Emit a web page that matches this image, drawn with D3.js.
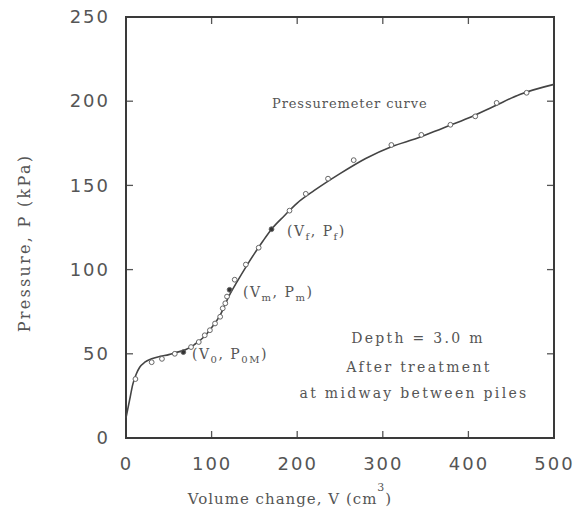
<!DOCTYPE html>
<meta charset="utf-8">
<script src="https://d3js.org/d3.v7.min.js"></script>
<style>
  body { margin: 0; background: #fff; }
  text { fill: #555; }
</style>
<div id="chart"></div>
<script>
// measured points (V in cm3, P in kPa)
var pointV = [11, 30, 42, 57, 67, 76, 85, 92, 98, 104, 110, 113, 116, 118, 121, 127, 140, 155, 170, 191, 210, 236, 266, 310, 345, 379, 408, 433, 468];
var pointP = [35, 45, 47, 50, 51, 54, 57, 61, 64, 68, 72, 77, 80, 84, 88, 94, 103, 113, 124, 135, 145, 154, 165, 174, 180, 186, 191, 199, 205];
var filledV = [67, 121, 170];

// fitted pressuremeter curve
var curveV = [0, 4, 8, 12, 16, 22, 30, 40, 50, 60, 70, 80, 90, 100, 110, 120, 130, 140, 150, 160, 170, 185, 200, 220, 250, 280, 310, 340, 370, 400, 430, 460, 500];
var curveP = [12, 22, 32, 38, 42, 45, 47, 48.5, 49.5, 51, 52.5, 55.5, 59.5, 65.5, 73, 84, 93, 101.5, 109.5, 117, 124, 132, 139.5, 147, 157, 166, 173, 178, 184, 190, 197, 204, 210];

var xTicks = [0, 100, 200, 300, 400, 500];
var yTicks = [0, 50, 100, 150, 200, 250];

var width = 576, height = 516;
var m = {left: 126, right: 22, top: 17, bottom: 78};

var svg = d3.select("#chart").append("svg").attr("width", width).attr("height", height);

var x = d3.scaleLinear().domain([0, 500]).range([m.left, width - m.right]);
var y = d3.scaleLinear().domain([0, 250]).range([height - m.bottom, m.top]);

var ink = "#3a3a3a";
var numFont = "DejaVu Sans", txtFont = "DejaVu Serif";
var tickLen = 7;

// tick labels from the axes (domain and tick lines removed, ticks drawn inside below)
function clean(g) { g.select(".domain").remove(); g.selectAll("line").remove(); }

svg.append("g").attr("transform", "translate(0," + y(0) + ")")
  .call(d3.axisBottom(x).tickValues(xTicks).tickSize(0).tickPadding(19))
  .call(clean)
  .selectAll("text").style("font-family", numFont).style("font-size", "18px")
  .style("letter-spacing", "2px").attr("fill", "#555");

svg.append("g").attr("transform", "translate(" + x(0) + ",0)")
  .call(d3.axisLeft(y).tickValues(yTicks).tickSize(0).tickPadding(16))
  .call(clean)
  .selectAll("text").style("font-family", numFont).style("font-size", "18px")
  .style("letter-spacing", "2px").attr("fill", "#555");

// inside ticks on all four sides
var tk = svg.append("g").attr("stroke", "#555").attr("stroke-width", 1.3);
tk.selectAll("line.xb").data(xTicks.slice(1, -1)).enter().append("line")
  .attr("x1", x).attr("x2", x).attr("y1", y(0)).attr("y2", y(0) - tickLen);
tk.selectAll("line.xt").data(xTicks.slice(1, -1)).enter().append("line")
  .attr("x1", x).attr("x2", x).attr("y1", y(250)).attr("y2", y(250) + tickLen);
tk.selectAll("line.yl").data(yTicks.slice(1, -1)).enter().append("line")
  .attr("y1", y).attr("y2", y).attr("x1", x(0)).attr("x2", x(0) + tickLen);
tk.selectAll("line.yr").data(yTicks.slice(1, -1)).enter().append("line")
  .attr("y1", y).attr("y2", y).attr("x1", x(500)).attr("x2", x(500) - tickLen);

// frame
svg.append("rect")
  .attr("x", x(0)).attr("y", y(250))
  .attr("width", x(500) - x(0)).attr("height", y(0) - y(250))
  .attr("fill", "none").attr("stroke", ink).attr("stroke-width", 2);

// curve
var curveData = curveV.map(function(v, i) { return [v, curveP[i]]; });
var line = d3.line().x(function(d) { return x(d[0]); }).y(function(d) { return y(d[1]); })
  .curve(d3.curveMonotoneX);
svg.append("path").datum(curveData).attr("d", line)
  .attr("fill", "none").attr("stroke", "#444").attr("stroke-width", 1.6);

// points
var pts = pointV.map(function(v, i) { return {v: v, p: pointP[i]}; });
svg.selectAll("circle.pt").data(pts).enter().append("circle")
  .attr("class", "pt")
  .attr("cx", function(d) { return x(d.v); })
  .attr("cy", function(d) { return y(d.p); })
  .attr("r", 2.4)
  .attr("fill", function(d) { return filledV.indexOf(d.v) >= 0 ? "#333" : "#fff"; })
  .attr("stroke", "#666").attr("stroke-width", 1);

// annotations
function label(tx, ty, parts, anchor) {
  var t = svg.append("text").attr("x", tx).attr("y", ty)
    .style("font-family", txtFont).style("font-size", "14px")
    .style("letter-spacing", "1.5px")
    .attr("text-anchor", anchor || "start");
  parts.forEach(function(p) {
    var s = t.append("tspan").text(p[0]);
    if (p[1]) s.attr("dy", p[1]);
    if (p[2]) s.style("font-size", "10px");
  });
  return t;
}
label(272, 108, [["Pressuremeter curve"]]).style("font-size", "13px").style("letter-spacing", "0.9px");
label(287, 236, [["(V"], ["f", 4, 1], [", P", -4], ["f", 4, 1], [")", -4]]);
label(243, 297, [["(V"], ["m", 4, 1], [", P", -4], ["m", 4, 1], [")", -4]]);
label(192, 359, [["(V"], ["0", 4, 1], [", P", -4], ["0M", 4, 1], [")", -4]]);
label(418, 343, [["Depth = 3.0 m"]], "middle").style("letter-spacing", "2.3px");
label(419, 372, [["After treatment"]], "middle").style("letter-spacing", "2.3px");
label(414, 398, [["at midway between piles"]], "middle").style("letter-spacing", "2.3px");

// axis titles
var xt = svg.append("text").attr("x", 290).attr("y", 504).attr("text-anchor", "middle")
  .style("font-family", txtFont).style("font-size", "15px").style("letter-spacing", "1px");
xt.append("tspan").text("Volume change, V (cm");
xt.append("tspan").text("3").attr("dy", -13).style("font-size", "11px");
xt.append("tspan").text(")").attr("dy", 13);

svg.append("text")
  .attr("transform", "translate(30,243) rotate(-90)")
  .attr("text-anchor", "middle")
  .style("font-family", txtFont).style("font-size", "16px").style("letter-spacing", "2.3px")
  .text("Pressure, P (kPa)");
</script>
